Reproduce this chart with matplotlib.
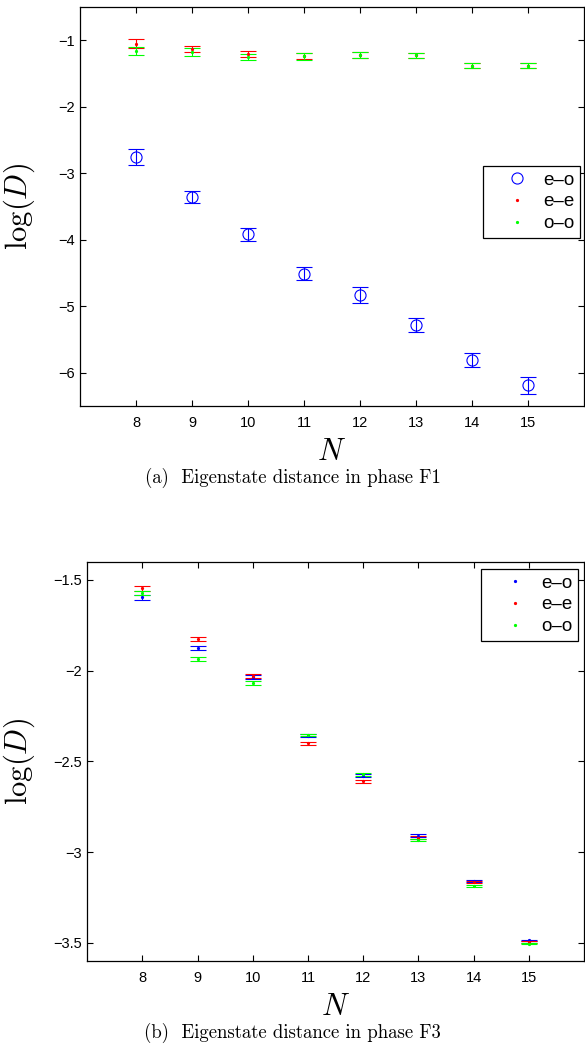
import matplotlib
matplotlib.use("Agg")
import matplotlib.pyplot as plt
from matplotlib.lines import Line2D
from matplotlib.ticker import FixedLocator, FixedFormatter

plt.rcParams['font.family'] = ['Liberation Sans', 'DejaVu Sans']
plt.rcParams['mathtext.fontset'] = 'cm'

# data
N = [8, 9, 10, 11, 12, 13, 14, 15]

# (a) phase F1
eo_a = [-2.75, -3.36, -3.92, -4.51, -4.83, -5.28, -5.81, -6.19]
eo_a_err = [0.12, 0.09, 0.10, 0.095, 0.12, 0.11, 0.10, 0.13]
ee_a = [-1.05, -1.13, -1.21, -1.235, -1.22, -1.225, -1.385, -1.385]
ee_a_err = [0.065, 0.045, 0.045, 0.05, 0.048, 0.035, 0.037, 0.037]
oo_a = [-1.165, -1.17, -1.25, -1.24, -1.22, -1.225, -1.385, -1.385]
oo_a_err = [0.057, 0.06, 0.05, 0.05, 0.048, 0.035, 0.037, 0.037]

# (b) phase F3
eo_b = [-1.596, -1.877, -2.034, -2.36, -2.58, -2.909, -3.16, -3.487]
eo_b_err = [0.014, 0.011, 0.010, 0.008, 0.008, 0.006, 0.006, 0.005]
ee_b = [-1.546, -1.824, -2.03, -2.40, -2.61, -2.92, -3.167, -3.495]
ee_b_err = [0.013, 0.011, 0.010, 0.008, 0.008, 0.006, 0.006, 0.005]
oo_b = [-1.571, -1.934, -2.07, -2.355, -2.571, -2.932, -3.187, -3.504]
oo_b_err = [0.012, 0.011, 0.010, 0.008, 0.008, 0.006, 0.006, 0.005]

xticks = N
xticklabels = [str(n) for n in N]
yticks_a = [-6, -5, -4, -3, -2, -1]
yticklabels_a = ['\u22126', '\u22125', '\u22124', '\u22123', '\u22122', '\u22121']
yticks_b = [-3.5, -3, -2.5, -2, -1.5]
yticklabels_b = ['\u22123.5', '\u22123', '\u22122.5', '\u22122', '\u22121.5']
labels = ['e\u2013o', 'e\u2013e', 'o\u2013o']
blue, red, green = '#0000ff', '#ff0000', '#00ff00'

fig = plt.figure(figsize=(5.85, 10.48), dpi=100)
ax1 = fig.add_axes([80/585, 1-406/1048, 504/585, 399/1048])
ax2 = fig.add_axes([87.3/585, 1-961/1048, 496.7/585, 399.3/1048])


def style(ax, yt, ytl, ylim):
    ax.set_xlim(7, 16)
    ax.set_ylim(*ylim)
    ax.xaxis.set_major_locator(FixedLocator(xticks))
    ax.xaxis.set_major_formatter(FixedFormatter(xticklabels))
    ax.yaxis.set_major_locator(FixedLocator(yt))
    ax.yaxis.set_major_formatter(FixedFormatter(ytl))
    ax.tick_params(direction='in', length=4, width=0.8, top=True, right=True,
                   labelsize=10.5)
    ax.tick_params(axis='x', pad=7)
    ax.tick_params(axis='y', pad=4)
    for s in ax.spines.values():
        s.set_linewidth(0.9)


def ebar(ax, y, e, c, marker='.', ms=3, mfc=None):
    ax.errorbar(N, y, yerr=e, fmt=marker, color=c, ecolor=c, ms=ms,
                mfc=mfc if mfc is not None else c, mew=0.8, elinewidth=0.8,
                capsize=5.6, capthick=0.8)
    return Line2D([], [], ls='none', marker=marker, color=c, ms=ms,
                  mfc=mfc if mfc is not None else c, mew=0.8)


# panel (a)
h1 = [ebar(ax1, eo_a, eo_a_err, blue, marker='o', ms=8, mfc='none'),
      ebar(ax1, ee_a, ee_a_err, red),
      ebar(ax1, oo_a, oo_a_err, green)]
style(ax1, yticks_a, yticklabels_a, (-6.5, -0.5))

# panel (b)
h2 = [ebar(ax2, eo_b, eo_b_err, blue),
      ebar(ax2, ee_b, ee_b_err, red),
      ebar(ax2, oo_b, oo_b_err, green)]
style(ax2, yticks_b, yticklabels_b, (-3.6, -1.4))

for ax, hs, anchor in [(ax1, h1, (0.992, 0.602)), (ax2, h2, (0.988, 0.982))]:
    leg = ax.legend(hs, labels, loc='upper right', bbox_to_anchor=anchor,
                    borderaxespad=0, fontsize=13.5, fancybox=False, framealpha=1,
                    edgecolor='black', borderpad=0.3, handlelength=3.0,
                    handletextpad=-0.1, labelspacing=0.25)
    leg.get_frame().set_linewidth(0.9)

ax1.set_ylabel(r'$\log(D)$', fontsize=22)
ax1.yaxis.set_label_coords(-0.085, 0.5)
ax1.set_xlabel(r'$N$', fontsize=22)
ax1.xaxis.set_label_coords(0.5, -0.078)
ax2.set_ylabel(r'$\log(D)$', fontsize=22)
ax2.yaxis.set_label_coords(-0.101, 0.5)
ax2.set_xlabel(r'$N$', fontsize=22)
ax2.xaxis.set_label_coords(0.5, -0.078)

fig.text(0.5, 1-478/1048, '(a)  Eigenstate distance in phase F1', family='cmr10',
         fontsize=13.5, ha='center', va='center')
fig.text(0.5, 1-1033/1048, '(b)  Eigenstate distance in phase F3', family='cmr10',
         fontsize=13.5, ha='center', va='center')

fig.savefig('out.png', dpi=100)
